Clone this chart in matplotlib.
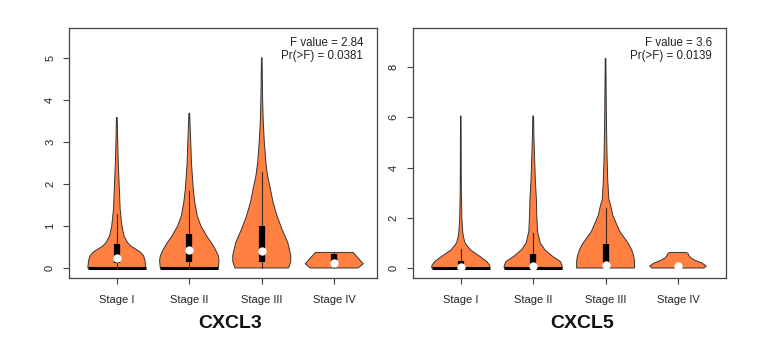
import numpy as np
import matplotlib
matplotlib.use("Agg")
import matplotlib.pyplot as plt

plt.rcParams['font.family'] = ['Liberation Sans', 'DejaVu Sans']

stages = ["Stage I", "Stage II", "Stage III", "Stage IV"]
fill_col = "#FF8040"

# CXCL3 - violin outlines (value, half width)
cxcl3_y = [
    [0, 0.17, 0.29, 0.37, 0.44, 0.52, 0.6, 0.76, 1.0, 1.4, 1.87, 2.5, 3.0, 3.58],
    [0, 0.17, 0.29, 0.44, 0.6, 0.76, 1.0, 1.24, 1.56, 1.87, 2.5, 3.0, 3.68],
    [0, 0.15, 0.3, 0.6, 0.92, 1.24, 1.56, 1.87, 2.2, 2.5, 3.0, 3.5, 4.0, 4.5, 5.0],
    [0, 0.1, 0.37],
]
cxcl3_w = [
    [0.40, 0.39, 0.37, 0.33, 0.27, 0.195, 0.15, 0.10, 0.07, 0.046, 0.035, 0.02, 0.012, 0.005],
    [0.40, 0.41, 0.40, 0.36, 0.305, 0.24, 0.16, 0.11, 0.076, 0.055, 0.03, 0.02, 0.005],
    [0.37, 0.40, 0.40, 0.36, 0.28, 0.21, 0.156, 0.12, 0.08, 0.057, 0.035, 0.02, 0.012, 0.008, 0.004],
    [0.33, 0.40, 0.26],
]
cxcl3_q1 = [0.13, 0.15, 0.15, 0.10]
cxcl3_med = [0.24, 0.42, 0.40, 0.13]
cxcl3_q3 = [0.58, 0.82, 1.00, 0.33]
cxcl3_whi = [1.28, 1.83, 2.28, 0.37]

# CXCL5
cxcl5_y = [
    [0, 0.1, 0.26, 0.46, 0.73, 1.0, 1.26, 1.5, 2.0, 3.0, 4.0, 5.0, 6.05],
    [0, 0.1, 0.26, 0.46, 0.73, 1.0, 1.46, 2.1, 2.72, 3.5, 4.5, 5.3, 6.05],
    [0, 0.26, 0.46, 0.73, 1.0, 1.46, 2.1, 2.5, 2.72, 3.5, 4.5, 5.5, 6.5, 7.5, 8.35],
    [0, 0.08, 0.2, 0.3, 0.4, 0.5, 0.58, 0.62],
]
cxcl5_w = [
    [0.40, 0.40, 0.36, 0.265, 0.13, 0.058, 0.035, 0.025, 0.015, 0.008, 0.006, 0.005, 0.004],
    [0.40, 0.40, 0.375, 0.27, 0.16, 0.097, 0.06, 0.05, 0.045, 0.03, 0.018, 0.01, 0.005],
    [0.40, 0.40, 0.39, 0.36, 0.31, 0.195, 0.10, 0.07, 0.046, 0.03, 0.02, 0.014, 0.01, 0.007, 0.004],
    [0.36, 0.39, 0.33, 0.24, 0.18, 0.15, 0.14, 0.11],
]
cxcl5_q1 = [0.0, 0.0, 0.05, 0.08]
cxcl5_med = [0.05, 0.08, 0.13, 0.08]
cxcl5_q3 = [0.28, 0.57, 0.95, 0.08]
cxcl5_whi = [0.76, 1.41, 2.40, 0.08]

bottom_bar = [True, True, False, False]

panels = [
    ("CXCL3", cxcl3_y, cxcl3_w, cxcl3_q1, cxcl3_med, cxcl3_q3, cxcl3_whi,
     [0, 1, 2, 3, 4, 5], (-0.24, 5.71), (0.34, 4.59), "F value = 2.84", "Pr(>F) = 0.0381"),
    ("CXCL5", cxcl5_y, cxcl5_w, cxcl5_q1, cxcl5_med, cxcl5_q3, cxcl5_whi,
     [0, 2, 4, 6, 8], (-0.4, 9.56), (0.336, 4.66), "F value = 3.6", "Pr(>F) = 0.0139"),
]

fig = plt.figure(figsize=(7.7, 3.45), dpi=100)
axes_pos = [[0.0896, 0.194, 0.40, 0.725], [0.536, 0.194, 0.4065, 0.725]]
title_x = [230 / 770, 582 / 770]

for k, (name, ys, ws, q1, med, q3, whi, yt, ylim, xlim, ftxt, ptxt) in enumerate(panels):
    ax = fig.add_axes(axes_pos[k])
    for i in range(4):
        pos = i + 1
        y = np.array(ys[i])
        w = np.array(ws[i])
        xs = np.concatenate([pos - w, (pos + w)[::-1]])
        yy = np.concatenate([y, y[::-1]])
        ax.fill(xs, yy, facecolor=fill_col, edgecolor="#333333", linewidth=0.7,
                joinstyle="round", zorder=2)
        if bottom_bar[i]:
            ax.plot([pos - w[0], pos + w[0]], [0, 0], color="black", linewidth=2.2,
                    solid_capstyle="butt", zorder=3)
        ax.plot([pos, pos], [0, whi[i]], color="#3a2a20", linewidth=0.8, zorder=3)
        ax.plot([pos, pos], [q1[i], q3[i]], color="black", linewidth=4.5,
                solid_capstyle="butt", zorder=4)
        ax.plot(pos, med[i], "o", color="white", markersize=5, zorder=5)
    ax.set_xlim(*xlim)
    ax.set_ylim(*ylim)
    ax.set_xticks([1, 2, 3, 4])
    ax.set_xticklabels(stages)
    ax.set_yticks(yt)
    ax.set_yticklabels([str(v) for v in yt], rotation=90, va="center")
    ax.tick_params(axis="both", labelsize=8, colors="#444444", labelcolor="#222222",
                   length=4, width=0.8)
    ax.tick_params(axis="x", pad=8)
    ax.tick_params(axis="y", pad=6)
    for s in ax.spines.values():
        s.set_color("#444444")
        s.set_linewidth(0.9)
    ax.text(0.955, 0.965, ftxt, transform=ax.transAxes, ha="right", va="top",
            fontsize=8.3, color="#222222")
    ax.text(0.955, 0.91, ptxt, transform=ax.transAxes, ha="right", va="top",
            fontsize=8.3, color="#222222")
    fig.text(title_x[k], 1 - 323 / 345, name, ha="center", va="center", fontsize=14,
             fontweight="bold", color="#111111")

fig.savefig("out.png", dpi=100)
